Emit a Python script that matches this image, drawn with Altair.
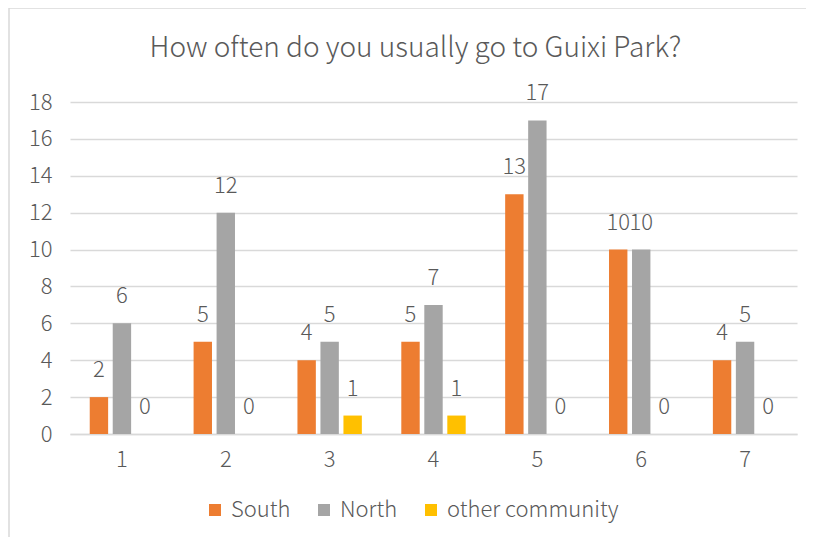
import altair as alt
import pandas as pd

categories = ["1", "2", "3", "4", "5", "6", "7"]
series = ["South", "North", "other community"]
south = [2, 5, 4, 5, 13, 10, 4]
north = [6, 12, 5, 7, 17, 10, 5]
other = [0, 0, 1, 1, 0, 0, 0]
colors = ["#ED7D31", "#A5A5A5", "#FFC000"]
title_text = "How often do you usually go to Guixi Park?"

rows = []
for i, c in enumerate(categories):
    for s, vals in zip(series, [south, north, other]):
        rows.append({"cat": c, "series": s, "value": vals[i]})
df = pd.DataFrame(rows)

FONT = "Noto Sans CJK SC"
TXT = "#595959"

x = alt.X("cat:N", sort=categories, title=None,
          scale=alt.Scale(paddingInner=0.38, paddingOuter=0.19),
          axis=alt.Axis(labelAngle=0, ticks=False, domain=True, domainColor="#D9D9D9",
                        domainWidth=1.5, labelFontSize=22, labelColor=TXT,
                        labelFont=FONT, labelFontWeight=300, labelPadding=15))
xo = alt.XOffset("series:N", sort=series, scale=alt.Scale(paddingInner=0.2, paddingOuter=0))
y = alt.Y("value:Q", title=None,
          scale=alt.Scale(domain=[0, 18]),
          axis=alt.Axis(values=list(range(0, 19, 2)), ticks=False, domain=False,
                        gridColor="#D9D9D9", gridWidth=1.5, labelFontSize=22,
                        labelColor=TXT, labelFont=FONT, labelFontWeight=300,
                        labelPadding=18))
color = alt.Color("series:N", sort=series,
                  scale=alt.Scale(domain=series, range=colors),
                  legend=alt.Legend(title=None, orient="none", direction="horizontal",
                                    legendX=134, legendY=397, symbolType="square",
                                    symbolSize=144, symbolStrokeWidth=0, labelFontSize=22,
                                    labelColor=TXT, labelFont=FONT, labelFontWeight=300,
                                    labelOffset=5, columnPadding=22, labelLimit=400))

base = alt.Chart(df)
bars = base.mark_bar().encode(x=x, xOffset=xo, y=y, color=color)
labels = base.mark_text(baseline="alphabetic", dy=-20, fontSize=22, color=TXT,
                        font=FONT, fontWeight=300).encode(
    x=x, xOffset=xo, y=y, text="value:Q")

border = pd.DataFrame({"k": [0]})
left_border = alt.Chart(border).mark_rule(color="#D9D9D9", strokeWidth=1.5).encode(
    x=alt.value(-61), y=alt.value(-94), y2=alt.value(440))
top_border = alt.Chart(border).mark_rule(color="#D9D9D9", strokeWidth=1.5).encode(
    x=alt.value(-61), x2=alt.value(736), y=alt.value(-94))

chart = alt.layer(left_border, top_border, bars, labels).properties(
    width=727, height=332,
    padding={"left": 62, "top": 94, "right": 9, "bottom": 103},
    autosize=alt.AutoSizeParams(type="none"),
    title=alt.TitleParams(title_text, fontSize=28, font=FONT, fontWeight=300,
                          color=TXT, anchor="middle", dx=-18, offset=-56),
    background="white",
).configure_view(stroke=None)

chart.save("out.html", embed_options={"renderer": "svg", "actions": False})
